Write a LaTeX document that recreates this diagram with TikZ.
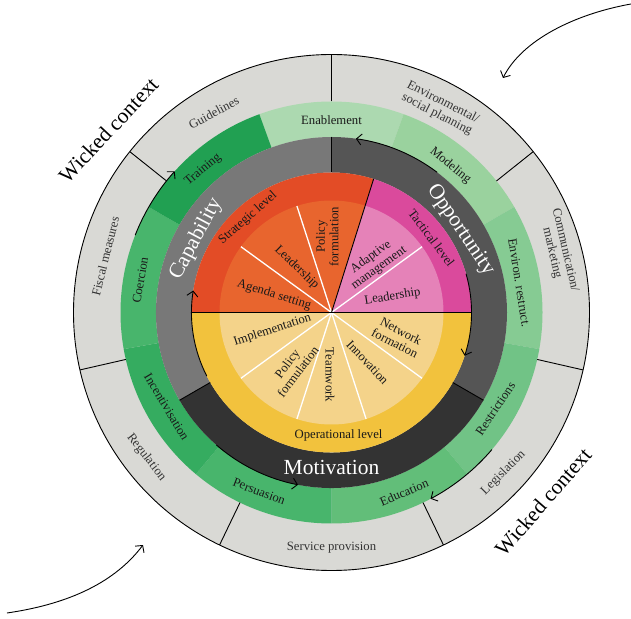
\documentclass[tikz,border=0pt]{standalone}
\usepackage{fontspec}
\setmainfont{Liberation Serif}
\usetikzlibrary{arrows.meta}
\definecolor{ringgray}{HTML}{D9D9D5}
\definecolor{gEnab}{HTML}{ACD9B0}
\definecolor{gMod}{HTML}{9AD29E}
\definecolor{gEnv}{HTML}{86CB93}
\definecolor{gRes}{HTML}{71C386}
\definecolor{gEdu}{HTML}{62BE79}
\definecolor{gPer}{HTML}{48B56C}
\definecolor{gInc}{HTML}{35AC60}
\definecolor{gCoe}{HTML}{48B56C}
\definecolor{gTra}{HTML}{21A052}
\definecolor{capc}{HTML}{787878}
\definecolor{oppc}{HTML}{555555}
\definecolor{motc}{HTML}{333333}
\definecolor{redo}{HTML}{E34C26}
\definecolor{redi}{HTML}{E8652E}
\definecolor{mago}{HTML}{DA4A9C}
\definecolor{magi}{HTML}{E582B8}
\definecolor{yelo}{HTML}{F2C23D}
\definecolor{yeli}{HTML}{F4D38A}
\definecolor{txtgray}{HTML}{333333}
\newcommand\annsec[5]{\fill[#5] (#1:#3pt) arc[start angle=#1,end angle=#2,radius=#3pt] -- (#2:#4pt) arc[start angle=#2,end angle=#1,radius=#4pt] -- cycle;}
\newcommand\piesec[4]{\fill[#4] (0,0) -- (#1:#3pt) arc[start angle=#1,end angle=#2,radius=#3pt] -- cycle;}
\begin{document}
\begin{tikzpicture}[x=1pt,y=1pt,
  lbl/.style={font=\fontsize{12.7}{13.5}\selectfont, text=black!90, inner sep=0pt, align=center},
  glbl/.style={lbl, text=txtgray},
  biglbl/.style={font=\fontsize{21.5}{23}\selectfont, text=white, inner sep=0pt},
  wlbl/.style={font=\fontsize{21.5}{23}\selectfont, text=black, inner sep=0pt},
  arcarrow/.style={line width=0.9pt, -{Straight Barb[length=5pt,width=11pt]}},
  sepline/.style={line width=0.9pt},
  wline/.style={white, line width=1.3pt}]
\useasboundingbox (0,0) rectangle (631,618);
\begin{scope}[shift={(331.5,305.5)}]
% outer gray ring
\fill[ringgray] (0,0) circle[radius=258pt];
% green ring
\annsec{70}{110}{175.5}{211}{gEnab}
\annsec{30}{70}{175.5}{211}{gMod}
\annsec{-10}{30}{175.5}{211}{gEnv}
\annsec{-50}{-10}{175.5}{211}{gRes}
\annsec{-90}{-50}{175.5}{211}{gEdu}
\annsec{230}{270}{175.5}{211}{gPer}
\annsec{190}{230}{175.5}{211}{gInc}
\annsec{150}{190}{175.5}{211}{gCoe}
\annsec{110}{150}{175.5}{211}{gTra}
% dark ring
\annsec{90}{210}{140}{175.5}{capc}
\annsec{-30}{90}{140}{175.5}{oppc}
\annsec{210}{330}{140}{175.5}{motc}
% inner sectors
\piesec{72.5}{180}{140}{redo}
\piesec{72.5}{180}{112}{redi}
\piesec{0}{72.5}{140}{mago}
\piesec{0}{72.5}{112}{magi}
\piesec{180}{360}{140}{yelo}
\piesec{180}{360}{112}{yeli}
% white dividers
\foreach \a in {108,144,36,216,252,288,324}
  \draw[wline] (0,0) -- (\a:112pt);
% black lines
\draw[sepline] (180:140pt) -- (0:140pt);
\draw[sepline] (0,0) -- (72.5:140pt);
\foreach \a in {90,210,330}
  \draw[sepline] (\a:140pt) -- (\a:175.5pt);
\foreach \a in {90,141.43,192.86,244.29,295.71,347.14,38.57}
  \draw[sepline] (\a:211pt) -- (\a:258pt);
\draw[sepline] (0,0) circle[radius=258pt];
% arc arrows
\draw[arcarrow] (207:140pt) arc[start angle=207,end angle=171,radius=140pt];
\draw[arcarrow] (16:140pt) arc[start angle=16,end angle=-18,radius=140pt];
\draw[arcarrow] (53:175.5pt) arc[start angle=53,end angle=82,radius=175.5pt];
\draw[arcarrow] (229:175.5pt) arc[start angle=229,end angle=259,radius=175.5pt];
\draw[arcarrow] (158.5:211pt) arc[start angle=158.5,end angle=138,radius=211pt];
\draw[arcarrow] (-40.5:211pt) arc[start angle=-40.5,end angle=-62,radius=211pt];
% outer ring labels
\node[glbl, rotate=28] (guid) at (120.5:232pt) {Guidelines};
\node[glbl, rotate=-27] (envsoc) at (62:231pt) {Environmental/\\social planning};
\node[glbl, rotate=-77] (comm) at (15:235pt) {Communication/\\marketing};
\node[glbl, rotate=76] (fisc) at (166:233pt) {Fiscal measures};
\node[glbl, rotate=-52] (regu) at (218:235pt) {Regulation};
\node[glbl] (serv) at (270:235.5pt) {Service provision};
\node[glbl, rotate=45] (legi) at (317:235pt) {Legislation};
% green ring labels
\node[lbl] (enab) at (90:192.5pt) {Enablement};
\node[lbl, rotate=-40] (mode) at (51:189pt) {Modeling};
\node[lbl, rotate=-81] (envr) at (9:190pt) {Environ. restruct.};
\node[lbl, rotate=56] (rest) at (329.6:190pt) {Restrictions};
\node[lbl, rotate=23] (educ) at (292:194pt) {Education};
\node[lbl, rotate=-21] (pers) at (248:193pt) {Persuasion};
\node[lbl, rotate=-59] (ince) at (209.8:190pt) {Incentivisation};
\node[lbl, rotate=80] (coer) at (170.4:194pt) {Coercion};
\node[lbl, rotate=40] (trai) at (132:192pt) {Training};
% dark ring labels
\node[biglbl, rotate=62] (capa) at (151.5:154pt) {Capability};
\node[biglbl, rotate=-56] (oppo) at (32.6:153pt) {Opportunity};
\node[biglbl] (moti) at (270:154.5pt) {Motivation};
% level labels
\node[lbl, rotate=41.5] (strat) at (131.5:126pt) {Strategic level};
\node[lbl, rotate=-53] (tact) at (36.7:124.7pt) {Tactical level};
\node[lbl] (oper) at (7,-122.5) {Operational level};
% inner labels
\node[lbl, rotate=90] (polr) at (-4.2,75.8) {Policy\\formulation};
\node[lbl, rotate=-44] (leadr) at (-34.8,45) {Leadership};
\node[lbl, rotate=-17] (agen) at (-57.3,17.5) {Agenda setting};
\node[lbl, rotate=36] (adap) at (43.5,50) {Adaptive\\management};
\node[lbl, rotate=9] (leadm) at (61,15.8) {Leadership};
\node[lbl, rotate=18] (impl) at (-59,-17.5) {Implementation};
\node[lbl, rotate=53] (poly) at (-39,-55) {Policy\\formulation};
\node[lbl, rotate=-90] (team) at (-1.5,-62.5) {Teamwork};
\node[lbl, rotate=-47] (inno) at (36,-50) {Innovation};
\node[lbl, rotate=-27] (netw) at (66.5,-24.5) {Network\\formation};
% wicked context
\node[wlbl, rotate=47] (wick1) at (-223,182.5) {Wicked context};
\node[wlbl, rotate=49] (wick2) at (211.5,-189.5) {Wicked context};
\end{scope}
% outer curved arrows
\coordinate (tra) at (631,614);
\coordinate (trb) at (503,540);
\coordinate (bla) at (7,5);
\coordinate (blb) at (143,73);
\draw[arcarrow] (tra) .. controls (575,604) and (522,578) .. (trb);
\draw[arcarrow] (bla) .. controls (62,13) and (112,32) .. (blb);
\end{tikzpicture}
\end{document}
